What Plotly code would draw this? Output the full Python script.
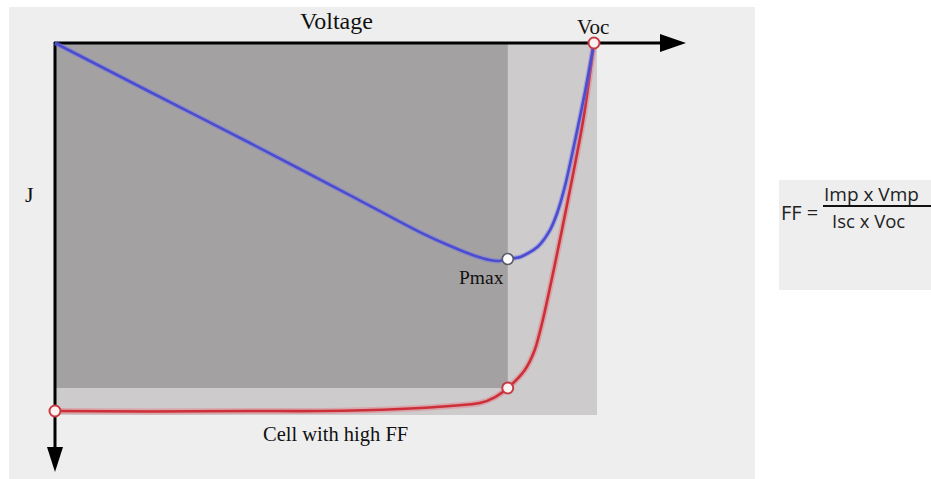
import plotly.graph_objects as go

# ---------------- data ----------------
# Voltage in V (Voc = 0.60 V), current density J in mA/cm^2 (plotted downward)
v_jv = [0, 0.106, 0.217, 0.295, 0.384, 0.440, 0.473, 0.490, 0.504, 0.523, 0.534, 0.543, 0.557, 0.571, 0.588, 0.600]
j_jv = [35.0, 35.05, 35.0, 35.0, 34.81, 34.52, 34.24, 33.67, 32.81, 31.10, 29.20, 26.35, 20.83, 14.93, 7.32, 0]

# power curve (same vertical scale, arbitrary units)
v_pw = [0, 0.106, 0.217, 0.328, 0.406, 0.440, 0.468, 0.484, 0.495, 0.504, 0.518, 0.537, 0.551, 0.559, 0.568, 0.579, 0.590, 0.600]
p_pw = [0, 4.66, 9.51, 14.46, 17.98, 19.31, 20.26, 20.64, 20.73, 20.54, 20.35, 19.40, 17.79, 16.17, 13.51, 9.23, 4.66, 0]

Voc = 0.600
Jsc = 35.0
Vmp = 0.504
Jmp = 32.81
Pmax_val = 20.54

labels = {"x": "Voltage", "y": "J", "voc": "Voc", "pmax": "Pmax", "cell": "Cell with high FF"}

# ---------------- pixel geometry helpers (styling) ----------------
OFF = 0
W, H = 931, 479
X0PX, XSCALE = 55.0, (594.0 - 55.0) / Voc      # px per volt (screen px)
Y0PX, YSCALE = 43.0, (411.0 - 43.0) / Jsc      # px per mA/cm^2


def dx(px):
    return (px - X0PX) / XSCALE


def dy(py):
    return (py - Y0PX) / YSCALE


fig = go.Figure()

shapes = []
# main light panel
shapes.append(dict(type="rect", x0=dx(9), x1=dx(755), y0=dy(7), y1=dy(482),
                   fillcolor="#eeeeee", line_width=0, layer="below"))
# formula box
shapes.append(dict(type="rect", x0=dx(779), x1=dx(935), y0=dy(180), y1=dy(290),
                   fillcolor="#eeeeee", line_width=0, layer="below"))
# Voc x Jsc rectangle
shapes.append(dict(type="rect", x0=0, x1=Voc + dx(597) - dx(594), y0=0, y1=Jsc + dy(415) - dy(411),
                   fillcolor="#cdcbcc", line_width=0, layer="below"))
# Vmp x Jmp rectangle
shapes.append(dict(type="rect", x0=0, x1=Vmp, y0=0, y1=Jmp,
                   fillcolor="#a3a1a2", line_width=0, layer="below"))
# axes lines
shapes.append(dict(type="line", x0=dx(54), x1=dx(664), y0=0, y1=0,
                   line=dict(color="black", width=3), layer="below"))
shapes.append(dict(type="line", x0=0, x1=0, y0=dy(42), y1=dy(452),
                   line=dict(color="black", width=3), layer="below"))
# arrow heads
shapes.append(dict(type="path",
                   path=f"M {dx(660)},{dy(34)} L {dx(686)},{dy(43)} L {dx(660)},{dy(52)} Z",
                   fillcolor="black", line_width=0, layer="below"))
shapes.append(dict(type="path",
                   path=f"M {dx(47)},{dy(447)} L {dx(55)},{dy(472)} L {dx(63)},{dy(447)} Z",
                   fillcolor="black", line_width=0, layer="below"))
# fraction bar
shapes.append(dict(type="line", x0=dx(823), x1=dx(935), y0=dy(206), y1=dy(206),
                   line=dict(color="#111111", width=2.2), layer="above"))

# ---------------- traces ----------------
fig.add_trace(go.Scatter(x=v_jv, y=j_jv, mode="lines",
                         line=dict(color="rgba(230,120,130,0.45)", width=6, shape="spline", smoothing=0.8),
                         hoverinfo="skip"))
fig.add_trace(go.Scatter(x=v_jv, y=j_jv, mode="lines",
                         line=dict(color="#cc2f38", width=2.6, shape="spline", smoothing=0.8),
                         hoverinfo="skip"))
fig.add_trace(go.Scatter(x=v_pw, y=p_pw, mode="lines",
                         line=dict(color="rgba(120,120,230,0.45)", width=5, shape="spline", smoothing=0.8),
                         hoverinfo="skip"))
fig.add_trace(go.Scatter(x=v_pw, y=p_pw, mode="lines",
                         line=dict(color="#4c4cd0", width=2.6, shape="spline", smoothing=0.8),
                         hoverinfo="skip"))
fig.add_trace(go.Scatter(x=[0, Vmp, Voc], y=[Jsc, Jmp, 0], mode="markers",
                         marker=dict(size=11, color="#fbf2f2", line=dict(color="#c83a42", width=2)),
                         hoverinfo="skip"))
fig.add_trace(go.Scatter(x=[Vmp], y=[Pmax_val], mode="markers",
                         marker=dict(size=11, color="#ffffff", line=dict(color="#555a66", width=1.6)),
                         hoverinfo="skip"))

serif = "Liberation Serif, Times New Roman, serif"
sans = "Open Sans, Liberation Sans, sans-serif"
ann = [
    dict(x=dx(336), y=dy(21), text=labels["x"], font=dict(family=serif, size=24, color="#111")),
    dict(x=dx(593), y=dy(27), text=labels["voc"], font=dict(family=serif, size=21, color="#111")),
    dict(x=dx(29), y=dy(194), text=labels["y"], font=dict(family=serif, size=22, color="#111")),
    dict(x=dx(481), y=dy(277), text=labels["pmax"], font=dict(family=serif, size=19.5, color="#111")),
    dict(x=dx(335), y=dy(434), text=labels["cell"], font=dict(family=serif, size=20.5, color="#111")),
    dict(x=dx(799), y=dy(212), text="FF =", font=dict(family=sans, size=20, color="#222")),
    dict(x=dx(871), y=dy(194), text="Imp x Vmp", font=dict(family=sans, size=19, color="#222")),
    dict(x=dx(868), y=dy(220), text="Isc x Voc", font=dict(family=sans, size=18.5, color="#222")),
]
for a in ann:
    a.update(xref="x", yref="y", showarrow=False, xanchor="center", yanchor="middle")

fig.update_layout(
    width=W, height=H,
    margin=dict(l=0, r=0, t=0, b=0),
    paper_bgcolor="white", plot_bgcolor="rgba(0,0,0,0)",
    showlegend=False, hovermode=False,
    shapes=shapes, annotations=ann,
    xaxis=dict(range=[dx(OFF), dx(OFF + W)], visible=False, fixedrange=True),
    yaxis=dict(range=[dy(OFF + H), dy(OFF)], visible=False, fixedrange=True),
)

fig.write_html(
    "out.html",
    config={"displayModeBar": False},
    post_script="document.body.style.margin='0';document.body.style.overflow='hidden';",
)
